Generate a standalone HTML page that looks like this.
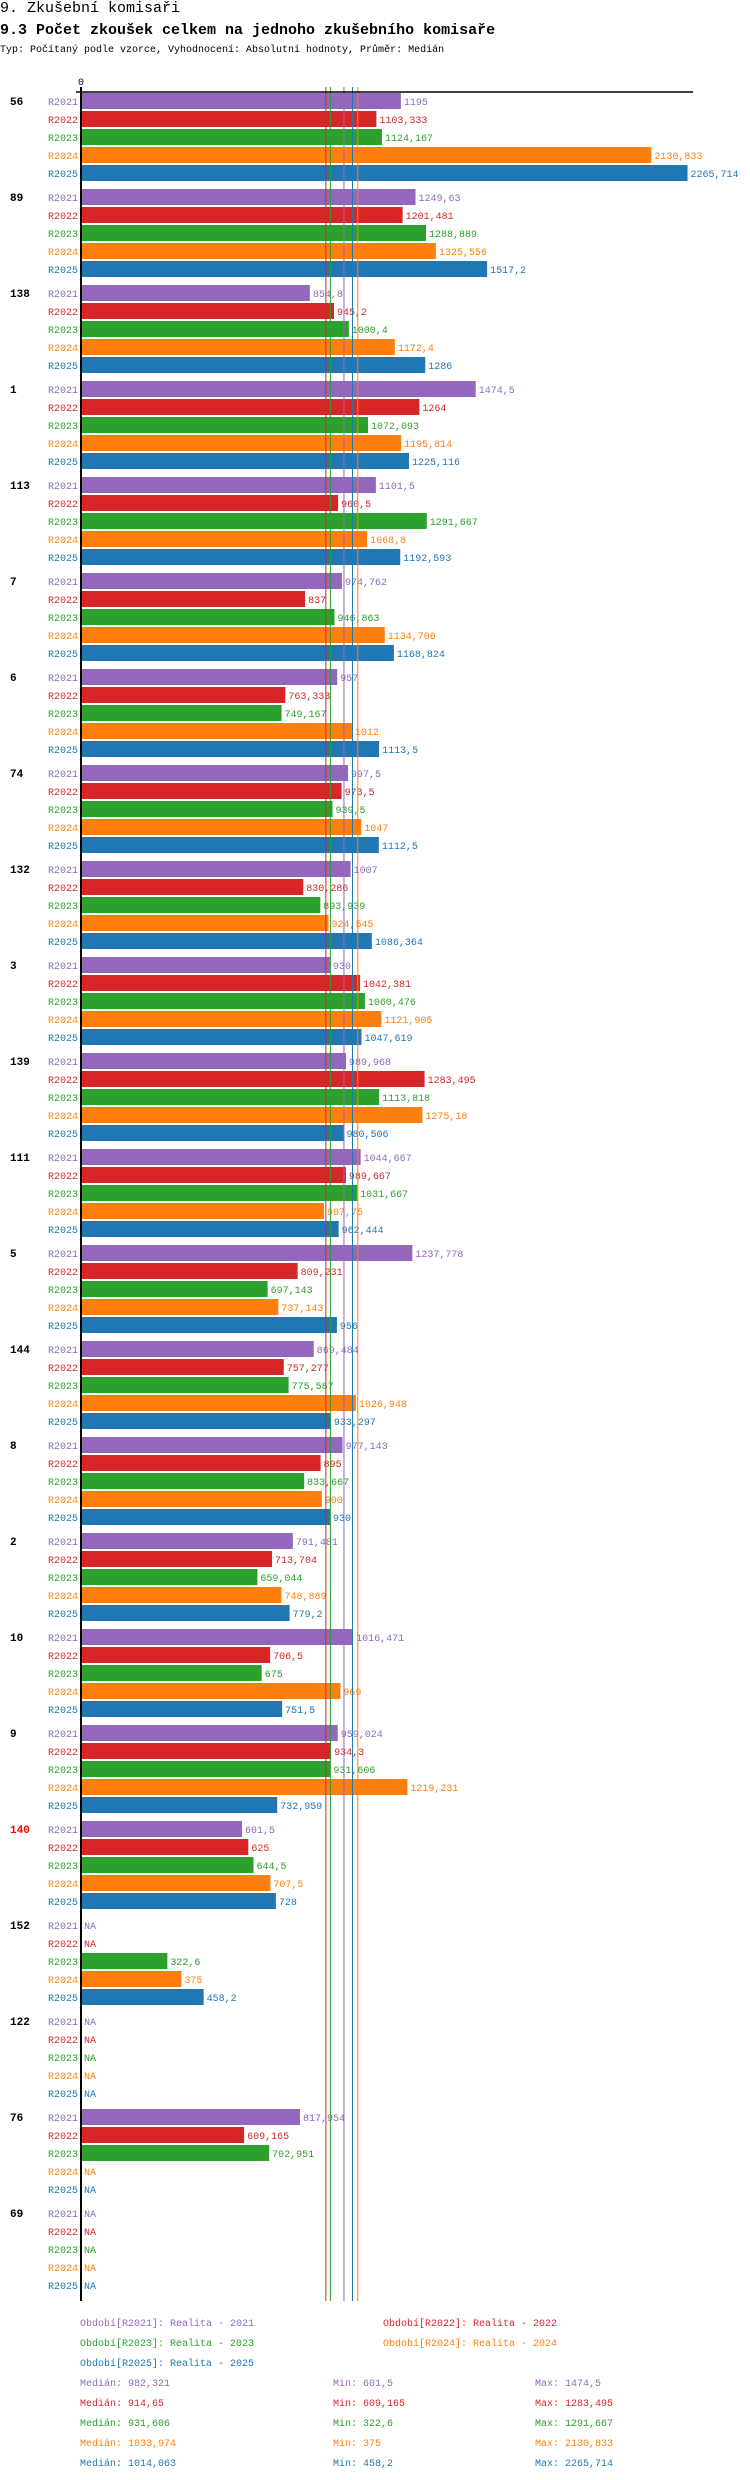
<!DOCTYPE html>
<html><head><meta charset="utf-8"><style>
body{margin:0;background:#fff;width:750px;height:2480px;overflow:hidden;font-family:"Liberation Mono","DejaVu Sans Mono",monospace}
.t{position:absolute;left:0;white-space:nowrap;color:#000}
</style></head><body>
<div class="t" style="top:0px;font-size:15px">9. Zkušební komisaři</div>
<div class="t" style="top:22px;font-size:15px;font-weight:bold">9.3 Počet zkoušek celkem na jednoho zkušebního komisaře</div>
<div class="t" style="top:45px;font-size:10px">Typ: Počítaný podle vzorce, Vyhodnocení: Absolutní hodnoty, Průměr: Medián</div>
<svg id="chart" width="750" height="2480" style="position:absolute;left:0;top:0" font-family="Liberation Mono, DejaVu Sans Mono, monospace"></svg>
<script>
const groups=["56","89","138","1","113","7","6","74","132","3","139","111","5","144","8","2","10","9","140","152","122","76","69"];
const series=["R2021","R2022","R2023","R2024","R2025"];
const colors=["#9467bd","#d62728","#2ca02c","#ff7f0e","#1f77b4"];
const v2021=[1195,1249.63,854.8,1474.5,1101.5,974.762,957,997.5,1007,930,989.968,1044.667,1237.778,869.484,977.143,791.481,1016.471,959.024,601.5,null,null,817.954,null];
const v2022=[1103.333,1201.481,945.2,1264,960.5,837,763.333,973.5,830.286,1042.381,1283.495,989.667,809.231,757.277,895,713.704,706.5,934.3,625,null,null,609.165,null];
const v2023=[1124.167,1288.889,1000.4,1072.093,1291.667,946.863,749.167,939.5,893.939,1060.476,1113.818,1031.667,697.143,775.587,833.667,659.044,675,931.606,644.5,322.6,null,702.951,null];
const v2024=[2130.833,1325.556,1172.4,1195.814,1068.8,1134.706,1012,1047,924.545,1121.905,1275.18,907.75,737.143,1026.948,900,748.889,969,1219.231,707.5,375,null,null,null];
const v2025=[2265.714,1517.2,1286,1225.116,1192.593,1168.824,1113.5,1112.5,1086.364,1047.619,980.506,962.444,956,933.297,930,779.2,751.5,732.959,728,458.2,null,null,null];
const medians=[982.321,914.65,931.606,1033.974,1014.063];
const mins=["601,5","609,165","322,6","375","458,2"];
const maxs=["1474,5","1283,495","1291,667","2130,833","2265,714"];
const legendNames=["Období[R2021]: Realita - 2021","Období[R2022]: Realita - 2022","Období[R2023]: Realita - 2023","Období[R2024]: Realita - 2024","Období[R2025]: Realita - 2025"];
const medianLabels=["982,321","914,65","931,606","1033,974","1014,063"];
const vals=[v2021,v2022,v2023,v2024,v2025];
const svg=document.getElementById('chart');const NS='http://www.w3.org/2000/svg';
const X0=81,K=0.2677;const x=v=>X0+v*K;
const gy=i=>93+96*i;
function mk(t,a,txt){const e=document.createElementNS(NS,t);for(const k in a)e.setAttribute(k,a[k]);if(txt!=null)e.textContent=txt;svg.appendChild(e);return e;}
const fmt=v=>String(v).replace('.',',');
let e=mk('text',{x:X0,y:85,'font-size':10,'text-anchor':'middle'},'0');


groups.forEach((g,i)=>{
 e=mk('text',{x:10,y:gy(i)+12,'font-size':11,'font-weight':'bold',fill:g==="140"?"#f00":"#000"},g);
 
 
 series.forEach((s,k)=>{
  const top=gy(i)+18*k,v=vals[k][i];
  e=mk('text',{x:78,y:top+12,'font-size':10,'text-anchor':'end',fill:colors[k]},s);
  
  
  if(v!=null){
   e=mk('rect',{x:X0,y:top,width:x(v)-X0,height:16,fill:colors[k]});
   
   
  }
  e=mk('text',{x:(v==null?X0:x(v))+3,y:top+12,'font-size':10,fill:colors[k]},v==null?'NA':fmt(v));
  
  
 });
});
medians.forEach((m,k)=>{
 e=mk('line',{x1:x(m),x2:x(m),y1:87,y2:2301,stroke:colors[k],'stroke-width':1});
 
 
});
e=mk('line',{x1:76,x2:693,y1:92,y2:92,stroke:'#000','stroke-width':1.5});


e=mk('line',{x1:X0,x2:X0,y1:87,y2:2301,stroke:'#000','stroke-width':2});


const lp=[[80,2322],[383,2322],[80,2342],[383,2342],[80,2362]];
legendNames.forEach((n,k)=>{
 e=mk('text',{x:lp[k][0],y:lp[k][1]+4,'font-size':10,fill:colors[k]},n);
 
 
});
series.forEach((s,k)=>{
 const y=2382+20*k+4;
 e=mk('text',{x:80,y:y,'font-size':10,fill:colors[k]},'Medián: '+medianLabels[k]);
 
 
 e=mk('text',{x:333,y:y,'font-size':10,fill:colors[k]},'Min: '+mins[k]);
 
 
 e=mk('text',{x:535,y:y,'font-size':10,fill:colors[k]},'Max: '+maxs[k]);
 
 
});
</script>
</body></html>
